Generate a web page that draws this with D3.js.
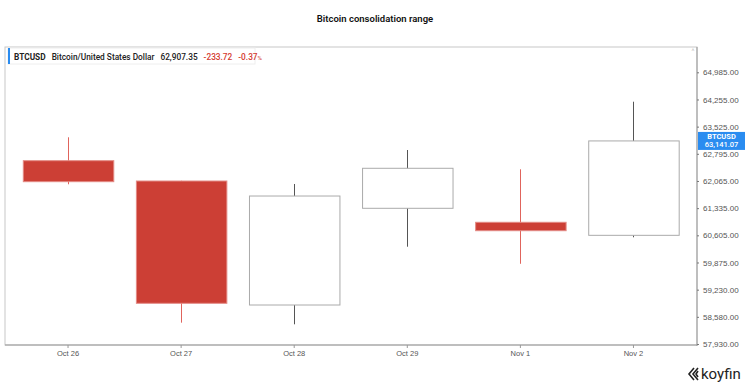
<!DOCTYPE html>
<html>
<head>
<meta charset="utf-8">
<script src="https://cdn.jsdelivr.net/npm/d3@7"></script>
<style>
  body { margin: 0; background: #fff; }
  svg { display: block; font-family: Roboto, "Liberation Sans", sans-serif; }
</style>
</head>
<body>
<div id="chart"></div>
<script>
// data
var days = ["Oct 26", "Oct 27", "Oct 28", "Oct 29", "Nov 1", "Nov 2"]
var opens  = [62610, 62064, 58863, 61331, 60955, 60605]
var highs  = [63239, 62070, 61984, 62897, 62379, 64195]
var lows   = [61976, 58440, 58401, 60299, 59844, 60552]
var closes = [62046, 58904, 61661, 62406, 60729, 63141]
var yTicks = [57930, 58580, 59230, 59875, 60605, 61335, 62065, 62795, 63525, 64255, 64985]
var lastLabel = ["BTCUSD", "63,141.07"]
var legendBits = ["BTCUSD", "Bitcoin/United States Dollar", "62,907.35", "-233.72", "-0.37"]

var W = 750, H = 387
var frame = {l: 5, r: 697, t: 47, b: 345}
var red = "#cc3f35", redWick = "#e0645c"

var svg = d3.select("#chart").append("svg")
  .attr("width", W).attr("height", H)

svg.append("text")
  .attr("x", 375).attr("y", 22)
  .attr("text-anchor", "middle")
  .attr("font-size", 9.5).attr("font-weight", 600)
  .attr("fill", "#111")
  .text("Bitcoin consolidation range")

// y scale: ticks are evenly spaced on screen
var step = 27.17
var y = d3.scaleLinear()
  .domain(yTicks)
  .range(yTicks.map(function(d, i) { return 344 - i * step }))

var x = d3.scaleBand()
  .domain(days)
  .range([11.5, 690])
  .paddingInner(0.2)
  .paddingOuter(0.1)

// frame
svg.append("rect")
  .attr("x", frame.l).attr("y", frame.t)
  .attr("width", frame.r - frame.l).attr("height", frame.b - frame.t)
  .attr("fill", "none").attr("stroke", "#c8c8c8")
svg.append("line")
  .attr("x1", frame.r).attr("x2", frame.r)
  .attr("y1", frame.t).attr("y2", frame.b + 1)
  .attr("stroke", "#999")
svg.append("line")
  .attr("x1", frame.l).attr("x2", frame.r)
  .attr("y1", frame.b).attr("y2", frame.b)
  .attr("stroke", "#999")

// right axis
var yAxis = d3.axisRight(y)
  .tickValues(yTicks)
  .tickSize(2)
  .tickPadding(4)
  .tickFormat(d3.format(",.2f"))
var ga = svg.append("g")
  .attr("transform", "translate(" + frame.r + ",0)")
  .call(yAxis)
ga.select(".domain").remove()
ga.selectAll("line").attr("stroke", "#777")
ga.selectAll("text").attr("font-size", 8).attr("fill", "#555")

// bottom axis
var xAxis = d3.axisBottom(x).tickSize(3).tickPadding(3)
var gx = svg.append("g")
  .attr("transform", "translate(0," + frame.b + ")")
  .call(xAxis)
gx.select(".domain").remove()
gx.selectAll("line").attr("stroke", "#999")
gx.selectAll("text").attr("font-size", 7.5).attr("fill", "#555")

// candles
var candles = days.map(function(d, i) {
  return {day: d, o: opens[i], h: highs[i], l: lows[i], c: closes[i]}
})
var g = svg.append("g")
g.selectAll(".wick").data(candles).enter().append("line")
  .attr("class", "wick")
  .attr("x1", function(d) { return Math.round(x(d.day) + x.bandwidth() / 2) + 0.5 })
  .attr("x2", function(d) { return Math.round(x(d.day) + x.bandwidth() / 2) + 0.5 })
  .attr("y1", function(d) { return y(d.h) })
  .attr("y2", function(d) { return y(d.l) })
  .attr("stroke", function(d) { return d.c < d.o ? redWick : "#555" })
  .attr("stroke-width", 1)
g.selectAll(".body").data(candles).enter().append("rect")
  .attr("class", "body")
  .attr("x", function(d) { return x(d.day) + 0.5 })
  .attr("width", x.bandwidth())
  .attr("y", function(d) { return y(Math.max(d.o, d.c)) })
  .attr("height", function(d) { return Math.max(1, y(Math.min(d.o, d.c)) - y(Math.max(d.o, d.c))) })
  .attr("fill", function(d) { return d.c < d.o ? red : "#fff" })
  .attr("stroke", function(d) { return d.c < d.o ? "#e38a84" : "#aaa" })
  .attr("stroke-width", 1)

// last price label
var ly = y(closes[closes.length - 1])
svg.append("rect")
  .attr("x", frame.r + 1).attr("y", ly - 9)
  .attr("width", 47).attr("height", 18)
  .attr("fill", "#2a8cf0")
svg.append("text")
  .attr("x", frame.r + 24.5).attr("y", ly - 1.5)
  .attr("text-anchor", "middle").attr("font-size", 7.5).attr("font-weight", 700)
  .attr("fill", "#fff").text(lastLabel[0])
svg.append("text")
  .attr("x", frame.r + 24.5).attr("y", ly + 6.5)
  .attr("text-anchor", "middle").attr("font-size", 7.5).attr("font-weight", 500)
  .attr("fill", "#fff").text(lastLabel[1])

// legend box
var lg = svg.append("g").attr("transform", "translate(8,48)")
lg.append("rect")
  .attr("x", 0).attr("y", 0).attr("width", 247).attr("height", 16)
  .attr("fill", "#fff").attr("stroke", "#eee")
lg.append("rect")
  .attr("x", 0).attr("y", 0).attr("width", 2).attr("height", 16)
  .attr("fill", "#2a8cf0")
var lt = lg.append("text").attr("x", 6).attr("y", 11.5).attr("font-size", 8.3)
lt.append("tspan").attr("font-weight", 700).attr("fill", "#222").text(legendBits[0])
lt.append("tspan").attr("dx", 6).attr("font-weight", 500).attr("fill", "#222").text(legendBits[1])
lt.append("tspan").attr("dx", 6).attr("font-weight", 500).attr("fill", "#222").text(legendBits[2])
lt.append("tspan").attr("dx", 6).attr("font-weight", 500).attr("fill", "#d43a30").text(legendBits[3])
lt.append("tspan").attr("dx", 6).attr("font-weight", 500).attr("fill", "#d43a30").text(legendBits[4])
lt.append("tspan").attr("font-size", 6).attr("fill", "#d43a30").text("%")

svg.append("text")
  .attr("x", 693).attr("y", 52).attr("font-size", 5).attr("fill", "#aaa")
  .attr("text-anchor", "middle").text("˄")

// koyfin mark
var kg = svg.append("g").attr("transform", "translate(688,367)")
kg.append("path")
  .attr("d", "M6,1 L1,7 L6,13 M10,1 L5,7 L10,13 M10,4 L8,7 L10,10")
  .attr("fill", "none").attr("stroke", "#222").attr("stroke-width", 1.6)
kg.append("text")
  .attr("x", 13).attr("y", 12).attr("font-size", 15).attr("fill", "#222")
  .attr("font-weight", 400)
  .text("koyfin")
</script>
</body>
</html>
